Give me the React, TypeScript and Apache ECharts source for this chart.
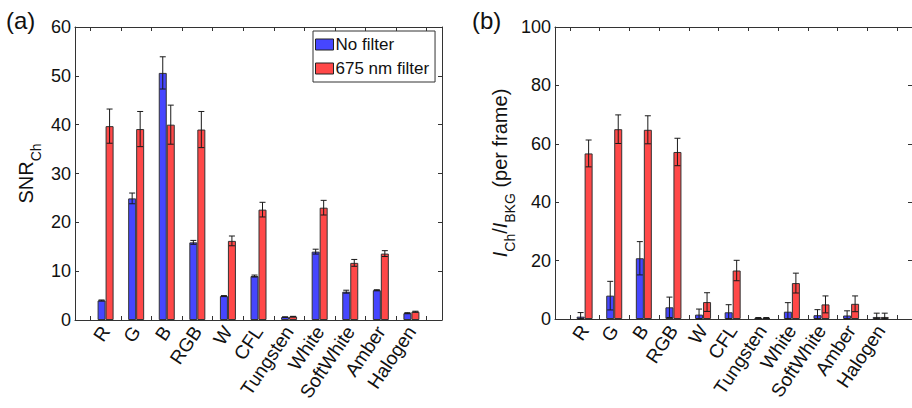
import React, { useEffect, useRef } from "react";
import * as echarts from "echarts";

const categories = ["R", "G", "B", "RGB", "W", "CFL", "Tungsten", "White", "SoftWhite", "Amber", "Halogen"];

const snrNoFilter = [4.0, 24.9, 50.6, 15.9, 4.9, 9.0, 0.6, 14.0, 5.8, 6.1, 1.4];
const snrNoFilterErr = [0.1, 1.1, 3.3, 0.4, 0.1, 0.2, 0.05, 0.5, 0.3, 0.1, 0.1];
const snrFilter = [39.7, 39.1, 40.0, 39.0, 16.2, 22.6, 0.7, 23.0, 11.7, 13.6, 1.7];
const snrFilterErr = [3.5, 3.6, 4.0, 3.7, 1.0, 1.5, 0.05, 1.5, 0.7, 0.6, 0.1];

const ratioNoFilter = [0.8, 8.0, 20.8, 4.0, 1.5, 2.3, 0.3, 2.5, 1.3, 1.2, 0.7];
const ratioNoFilterErr = [1.4, 4.9, 5.7, 3.5, 1.9, 2.6, 0.2, 3.1, 1.9, 1.6, 1.3];
const ratioFilter = [56.7, 65.0, 64.8, 57.2, 5.8, 16.6, 0.3, 12.3, 5.0, 5.2, 0.7];
const ratioFilterErr = [4.6, 4.9, 4.8, 4.7, 3.2, 3.5, 0.2, 3.4, 2.9, 2.7, 1.3];

const snrTicks = [0, 60, 10];
const ratioTicks = [0, 100, 20];

const FONT = "'Liberation Sans', Arial, Helvetica, sans-serif";
const BLUE = "#4646ff";
const RED = "#ff4848";
const EDGE = "#333333";
const TXT = "#111111";

const padded = ["", ...categories, ""];
const tickCats = Array.from({ length: 12 }, (_, i) => String(i));

function barSeries(name: string, vals: number[], color: string, xi: number, yi: number) {
  return {
    name,
    type: "bar",
    xAxisIndex: xi,
    yAxisIndex: yi,
    barWidth: 8,
    barGap: "0%",
    itemStyle: { color, borderColor: EDGE, borderWidth: 1 },
    data: [null, ...vals, null],
  };
}

function errSeries(vals: number[], errs: number[], xi: number, yi: number, offset: number) {
  return {
    type: "custom",
    xAxisIndex: xi,
    yAxisIndex: yi,
    silent: true,
    z: 10,
    encode: { x: 0, y: [1, 2] },
    data: vals.map((v, i) => [i + 1, Math.max(0, v - errs[i]), v + errs[i]]),
    renderItem: (params: any, api: any) => {
      const idx = api.value(0);
      const x = api.coord([idx, 0])[0] + offset;
      const yl = api.coord([idx, api.value(1)])[1];
      const yh = api.coord([idx, api.value(2)])[1];
      const style = { stroke: "#1a1a1a", lineWidth: 1 };
      return {
        type: "group",
        children: [
          { type: "line", shape: { x1: x, y1: yl, x2: x, y2: yh }, style },
          { type: "line", shape: { x1: x - 3, y1: yh, x2: x + 3, y2: yh }, style },
          { type: "line", shape: { x1: x - 3, y1: yl, x2: x + 3, y2: yl }, style },
        ],
      };
    },
  };
}

const axisLine = { show: true, lineStyle: { color: EDGE, width: 1 } };

function catAxis(gridIndex: number) {
  return {
    type: "category",
    gridIndex,
    data: padded,
    boundaryGap: false,
    position: "bottom",
    axisLine,
    axisTick: { show: false },
    splitLine: { show: false },
    axisLabel: {
      interval: 0,
      rotate: 56,
      fontSize: 19,
      color: TXT,
      fontFamily: FONT,
      margin: 8,
    },
  };
}

function tickAxis(gridIndex: number, position: string) {
  return {
    type: "category",
    gridIndex,
    data: tickCats,
    boundaryGap: true,
    position,
    axisLine: position === "top" ? axisLine : { show: false },
    axisTick: { show: true, inside: true, alignWithLabel: true, length: 4, lineStyle: { color: EDGE } },
    axisLabel: { show: false },
    splitLine: { show: false },
  };
}

function valAxis(gridIndex: number, ticks: number[], name: any, nameGap: number, rich: any) {
  return {
    type: "value",
    gridIndex,
    min: ticks[0],
    max: ticks[1],
    interval: ticks[2],
    position: "left",
    axisLine,
    axisTick: { show: true, inside: true, length: 4, lineStyle: { color: EDGE } },
    splitLine: { show: false },
    axisLabel: { fontSize: 18, color: TXT, fontFamily: FONT, margin: 4 },
    name,
    nameLocation: "middle",
    nameRotate: 90,
    nameGap,
    nameTextStyle: { rich, fontFamily: FONT, color: TXT },
  };
}

function frameYAxis(gridIndex: number, ticks: number[]) {
  return {
    type: "value",
    gridIndex,
    min: ticks[0],
    max: ticks[1],
    interval: ticks[2],
    position: "right",
    axisLine,
    axisTick: { show: true, inside: true, length: 4, lineStyle: { color: EDGE } },
    axisLabel: { show: false },
    splitLine: { show: false },
  };
}

const snrRich = {
  a: { fontSize: 20, fontFamily: FONT, color: TXT, lineHeight: 26 },
  b: { fontSize: 14, fontFamily: FONT, color: TXT, verticalAlign: "bottom", lineHeight: 14, padding: [0, 0, -4, 0] },
};
const ratioRich = {
  i: { fontSize: 20, fontFamily: FONT, fontStyle: "italic", color: TXT, lineHeight: 26 },
  n: { fontSize: 20, fontFamily: FONT, color: TXT, lineHeight: 26 },
  s: { fontSize: 14, fontFamily: FONT, color: TXT, verticalAlign: "bottom", lineHeight: 14, padding: [0, 0, -4, 0] },
};

export default function App() {
  const ref = useRef<HTMLDivElement>(null);
  useEffect(() => {
    if (!ref.current) return;
    const chart = echarts.init(ref.current, undefined, { renderer: "svg" });
    const option: any = {
      animation: false,
      backgroundColor: "#ffffff",
      textStyle: { fontFamily: FONT },
      grid: [
        { left: 75, top: 27, width: 367, height: 293 },
        { left: 75, top: 27, width: 367, height: 293 },
        { left: 555, top: 27, width: 366, height: 292 },
        { left: 555, top: 27, width: 366, height: 292 },
      ],
      xAxis: [
        catAxis(0),
        tickAxis(1, "bottom"),
        tickAxis(1, "top"),
        catAxis(2),
        tickAxis(3, "bottom"),
        tickAxis(3, "top"),
      ],
      yAxis: [
        valAxis(0, snrTicks, "{a|SNR}{b|Ch}", 36, snrRich),
        frameYAxis(1, snrTicks),
        valAxis(2, ratioTicks, "{i|I}{s|Ch}{n|/}{i|I}{s|BKG}{n| (per frame)}", 38, ratioRich),
        frameYAxis(3, ratioTicks),
      ],
      legend: {
        data: ["No filter", "675 nm filter"],
        orient: "vertical",
        left: 313,
        top: 31,
        padding: [5, 6, 5, 2],
        itemGap: 7,
        itemWidth: 18,
        itemHeight: 11,
        icon: "rect",
        borderColor: EDGE,
        borderWidth: 1,
        backgroundColor: "#ffffff",
        itemStyle: { borderColor: "#222", borderWidth: 1 },
        textStyle: { fontSize: 17, color: TXT, fontFamily: FONT, padding: [0, 0, 0, -3] },
        selectedMode: false,
      },
      graphic: [
        { type: "text", left: 6, top: 8, style: { text: "(a)", fontSize: 24, fontFamily: FONT, fill: TXT } },
        { type: "text", left: 472, top: 8, style: { text: "(b)", fontSize: 24, fontFamily: FONT, fill: TXT } },
      ],
      series: [
        barSeries("No filter", snrNoFilter, BLUE, 0, 0),
        barSeries("675 nm filter", snrFilter, RED, 0, 0),
        errSeries(snrNoFilter, snrNoFilterErr, 0, 0, -4),
        errSeries(snrFilter, snrFilterErr, 0, 0, 4),
        barSeries("No filter", ratioNoFilter, BLUE, 3, 2),
        barSeries("675 nm filter", ratioFilter, RED, 3, 2),
        errSeries(ratioNoFilter, ratioNoFilterErr, 3, 2, -4),
        errSeries(ratioFilter, ratioFilterErr, 3, 2, 4),
      ],
    };
    chart.setOption(option);
    return () => chart.dispose();
  }, []);
  return (
    <div
      ref={ref}
      style={{ position: "absolute", left: 0, top: 0, width: 912, height: 408 }}
    />
  );
}
